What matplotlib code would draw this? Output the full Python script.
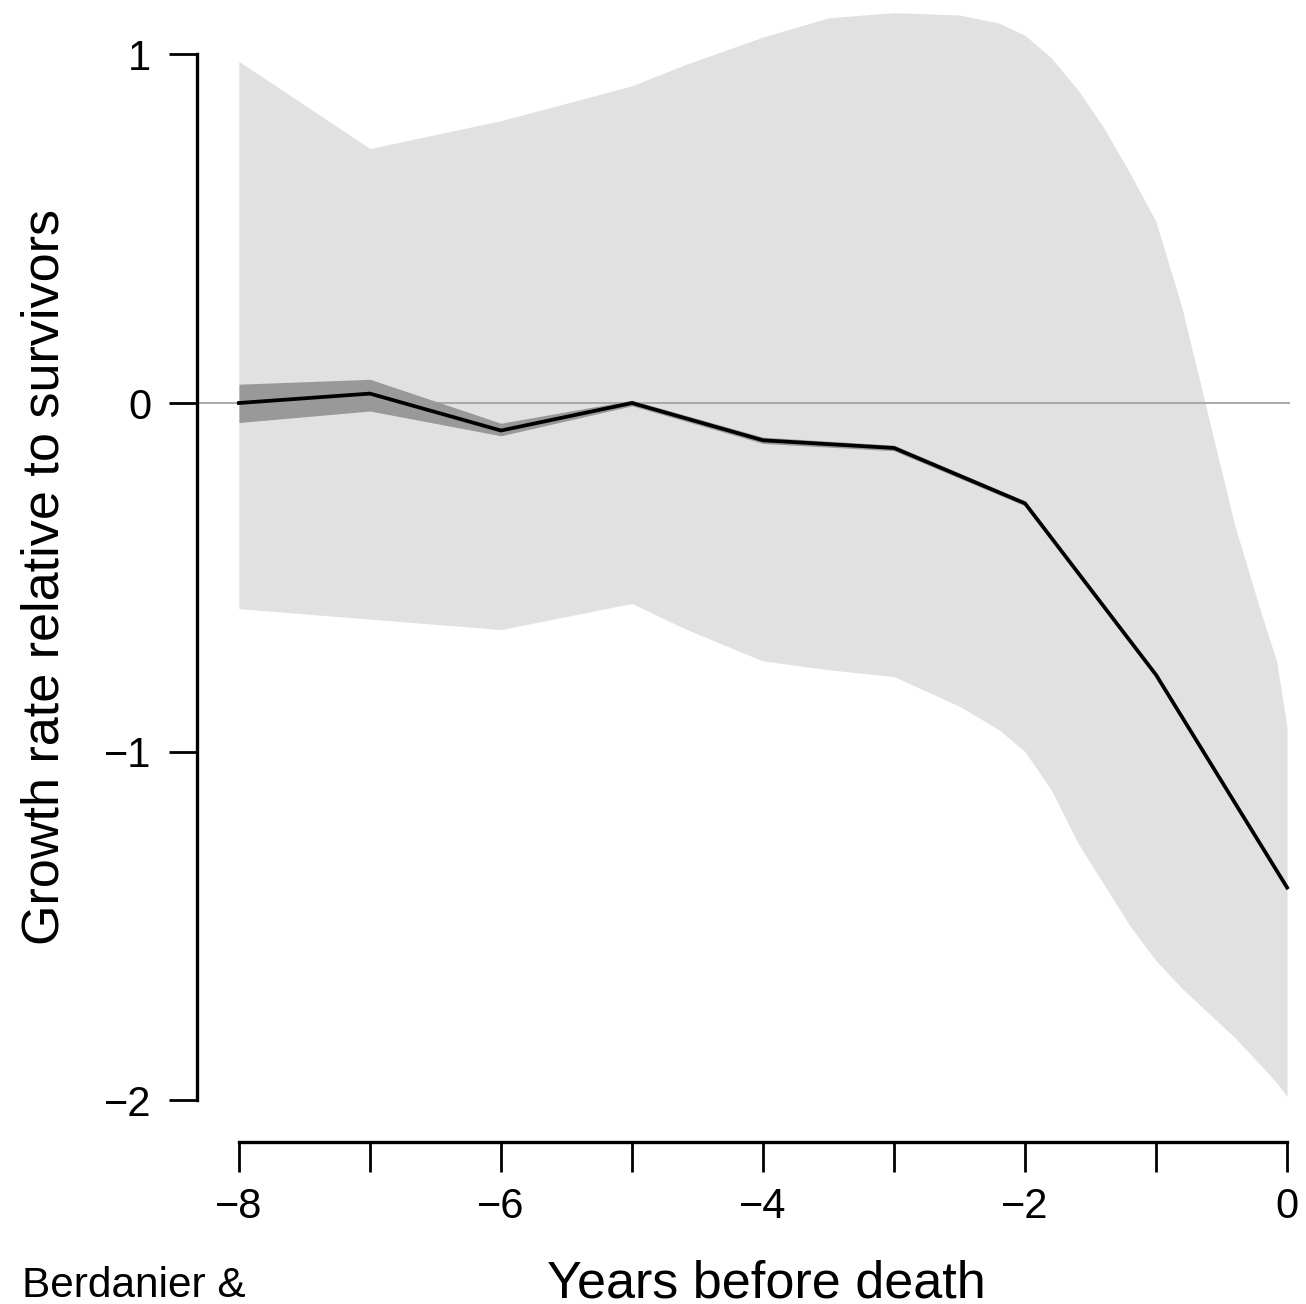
import matplotlib
matplotlib.use("Agg")
import matplotlib.pyplot as plt

plt.rcParams["font.family"] = ["Liberation Sans", "DejaVu Sans"]

# Mean growth of dying trees relative to survivors, by year before death
years = [-8, -7, -6, -5, -4, -3, -2, -1, 0]
growth = [0.0, 0.027, -0.079, 0.0, -0.107, -0.129, -0.288, -0.78, -1.39]
growth_hi = [0.054, 0.068, -0.058, 0.008, -0.098, -0.121, -0.281, -0.774, -1.384]
growth_lo = [-0.056, -0.023, -0.094, -0.008, -0.116, -0.137, -0.295, -0.786, -1.396]

# Spread of individual trees (wide band)
band_years = [-8, -7, -6, -5, -4.6, -4, -3.5, -3, -2.5, -2.2, -2, -1.8, -1.6,
              -1.4, -1.2, -1, -0.8, -0.6, -0.4, -0.2, -0.08, 0]
band_upper = [0.98, 0.73, 0.81, 0.91, 0.97, 1.05, 1.105, 1.12, 1.113, 1.09,
              1.055, 0.99, 0.90, 0.79, 0.66, 0.52, 0.27, -0.04, -0.35, -0.6,
              -0.74, -0.93]
band_lower = [-0.59, -0.62, -0.65, -0.575, -0.647, -0.74, -0.765, -0.785, -0.87,
              -0.937, -1.0, -1.11, -1.26, -1.38, -1.50, -1.60, -1.68, -1.75,
              -1.82, -1.90, -1.95, -1.99]

x_ticks = [-8, -7, -6, -5, -4, -3, -2, -1, 0]
x_ticklabels = ["\u22128", "", "\u22126", "", "\u22124", "", "\u22122", "", "0"]
y_ticks = [-2, -1, 0, 1]
y_ticklabels = ["\u22122", "\u22121", "0", "1"]

W, H = 1306, 1304
fig = plt.figure(figsize=(W / 100, H / 100), dpi=100)

# plot region in pixels (R-style 4% expansion around the data ranges)
left_px, right_px, top_px, bottom_px = 197, 1329, 12.6, 1142
ax = fig.add_axes([left_px / W, 1 - bottom_px / H,
                   (right_px - left_px) / W, (bottom_px - top_px) / H])
ax.set_xlim(-8.32, 0.32)
ax.set_ylim(-2.12, 1.12)

ax.fill_between(band_years, band_lower, band_upper, color="#e1e1e1",
                linewidth=0, zorder=1)
ax.hlines(0, -8.32, 0.02, color="#a8a8a8", linewidth=1.4, zorder=2)
ax.fill_between(years, growth_lo, growth_hi, color="#999999", linewidth=0,
                zorder=3)
ax.plot(years, growth, color="black", linewidth=2.7, zorder=4,
        solid_joinstyle="miter")

for side in ("top", "right"):
    ax.spines[side].set_visible(False)
ax.spines["left"].set_bounds(-2, 1)
ax.spines["bottom"].set_bounds(-8, 0)
ax.spines["left"].set_linewidth(2.4)
ax.spines["bottom"].set_linewidth(2.4)
ax.spines["left"].set_capstyle("projecting")
ax.spines["bottom"].set_capstyle("projecting")

ax.set_xticks(x_ticks)
ax.set_xticklabels(x_ticklabels)
ax.set_yticks(y_ticks)
ax.set_yticklabels(y_ticklabels)
ax.tick_params(axis="x", length=21.5, width=2.0, pad=11, labelsize=30,
               direction="out")
ax.tick_params(axis="y", length=20, width=2.0, pad=13, labelsize=30,
               direction="out")
ax.patch.set_visible(False)

fig.text(45 / W, 1 - 577 / H, "Growth rate relative to survivors",
         rotation=90, ha="center", va="center", fontsize=37.5)
fig.text(766 / W, 1 - 1297 / H, "Years before death", ha="center",
         va="baseline", fontsize=37.5)
fig.text(22 / W, 1 - 1297 / H, "Berdanier &", ha="left", va="baseline",
         fontsize=30.5)

fig.savefig("out.png", dpi=100, facecolor="white")
